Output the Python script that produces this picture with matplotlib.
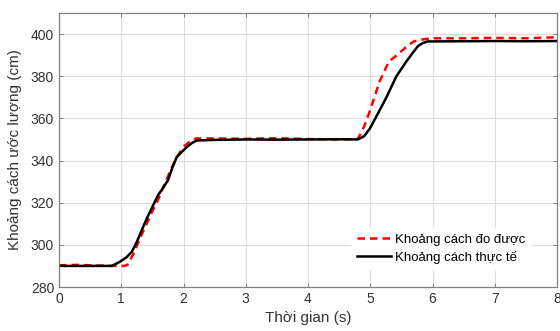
import matplotlib
matplotlib.use("Agg")
import matplotlib.pyplot as plt

# Measured distance (red dashed)
t_meas = [0.0, 0.3, 0.6, 0.9, 1.05, 1.1, 1.2, 1.3, 1.4, 1.5, 1.6, 1.7, 1.8, 1.9, 2.0, 2.1, 2.2, 2.5, 3.0,
          3.5, 4.0, 4.5, 4.8, 4.9, 5.0, 5.15, 5.3, 5.45, 5.6, 5.7, 5.85, 6.0, 6.5, 7.0, 7.5, 8.0]
d_meas = [290.3, 290.5, 290.2, 290.0, 290.0, 290.5, 296.0, 303.0, 309.5, 316.0, 322.0, 329.0, 336.0, 342.0, 346.5,
          349.0, 350.5, 350.5, 350.3, 350.6, 350.2, 350.0, 350.2, 356.0, 364.0, 377.5, 387.0, 390.5, 394.5, 396.5, 397.5,
          398.0, 398.0, 398.2, 398.0, 398.5]

# Actual distance (black solid)
t_act = [0.0, 0.3, 0.6, 0.85, 0.98, 1.08, 1.17, 1.25, 1.33, 1.41, 1.5, 1.59, 1.67, 1.75, 1.82, 1.89, 1.97, 2.05, 2.13,
         2.21, 2.5, 3.0, 3.5, 4.0, 4.5, 4.8, 4.9, 4.99, 5.1, 5.26, 5.42, 5.58, 5.68, 5.77, 5.85, 5.92, 6.5, 7.0, 7.5, 8.0]
d_act = [290.0, 290.0, 290.0, 290.0, 292.0, 294.0, 296.7, 301.4, 307.0, 312.5, 318.0, 323.5, 327.0, 330.6, 336.5,
         341.6, 344.0, 346.3, 348.2, 349.5, 349.8, 350.0, 349.9, 350.0, 350.1, 350.0, 351.5, 355.0, 361.0, 370.0, 380.0,
         387.0, 391.0, 394.4, 395.8, 396.5, 396.6, 396.7, 396.6, 396.7]

x_ticks = [0, 1, 2, 3, 4, 5, 6, 7, 8]
y_ticks = [280, 300, 320, 340, 360, 380, 400]

plt.rcParams['font.family'] = ['Liberation Sans', 'DejaVu Sans']

fig = plt.figure(figsize=(5.6, 3.31), dpi=100)
ax = fig.add_axes([59/560, 1 - 287/331, (557-59)/560, (287-13)/331])

ax.plot(t_meas, d_meas, color='red', linestyle=(0, (3, 2)), linewidth=1.8, label='Khoảng cách đo được')
ax.plot(t_act, d_act, color='black', linestyle='-', linewidth=1.8, label='Khoảng cách thực tế')

ax.set_xlim(0, 8)
ax.set_ylim(280, 410)
ax.set_xticks(x_ticks)
ax.set_yticks(y_ticks)
ax.grid(True, color='#dddddd', linewidth=0.8)
ax.set_axisbelow(True)
ax.tick_params(direction='in', top=True, right=True, length=3, labelsize=10, labelcolor='#333333',
               color='#808080', width=0.7)
for s in ax.spines.values():
    s.set_color('#808080')
    s.set_linewidth(0.9)

ax.set_xlabel('Thời gian (s)', fontsize=11, color='#333333', labelpad=4)
ax.set_ylabel('Khoảng cách ước lượng (cm)', fontsize=11, color='#333333', labelpad=6)

leg = ax.legend(loc='center left', bbox_to_anchor=(0.574, 0.14), frameon=True, fontsize=9.5,
                handlelength=2.6, handletextpad=0.3, labelspacing=0.35, borderpad=0.4,
                fancybox=False, framealpha=1.0)
leg.get_frame().set_edgecolor('white')
leg.get_frame().set_facecolor('white')

fig.savefig('out.png', dpi=100)
